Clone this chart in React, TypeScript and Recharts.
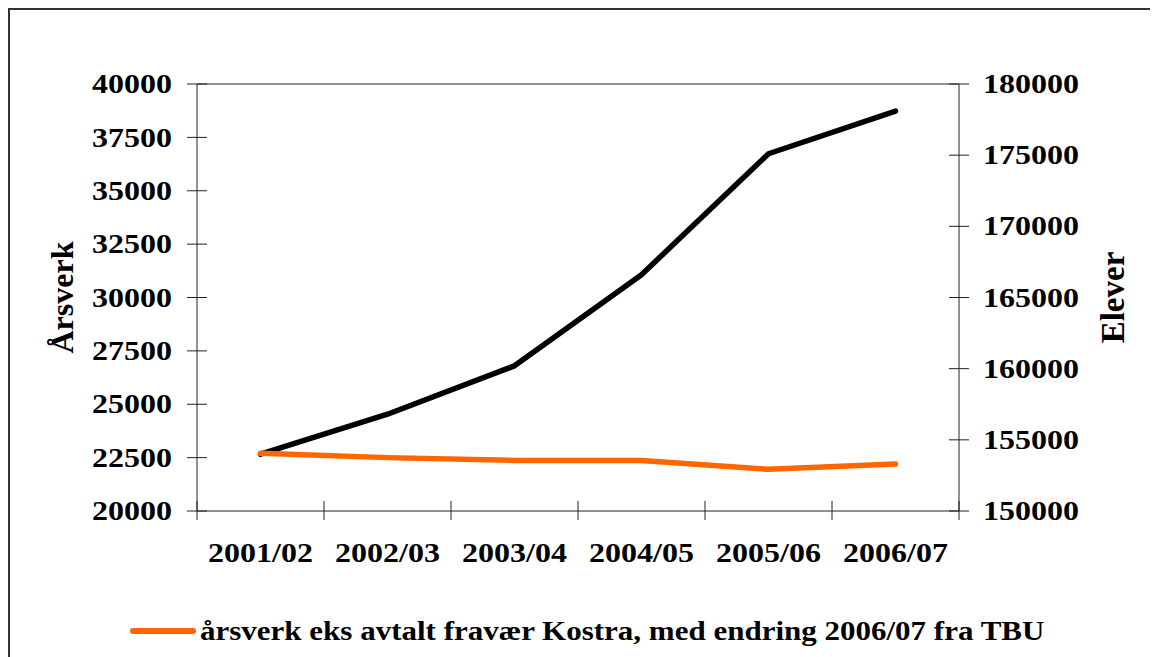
import React from 'react';
import { LineChart, Line, XAxis, YAxis, Legend, ReferenceLine } from 'recharts';

const categories = ['2001/02', '2002/03', '2003/04', '2004/05', '2005/06', '2006/07'];
const elever = [154000, 156800, 160200, 166600, 175100, 178100];
const arsverk = [22700, 22500, 22370, 22360, 21950, 22200];
const leftTicks = [20000, 22500, 25000, 27500, 30000, 32500, 35000, 37500, 40000];
const rightTicks = [150000, 155000, 160000, 165000, 170000, 175000, 180000];
const arsverkName = 'årsverk eks avtalt fravær Kostra, med endring 2006/07 fra TBU';
const eleverName = 'Elever';

const data = categories.map((c, i) => ({ x: i + 0.5, cat: c, arsverk: arsverk[i], elever: elever[i] }));
const xTicks: number[] = [];
for (let i = 0; i <= categories.length * 2; i++) xTicks.push(i / 2);

const FONT = '"Liberation Serif", "Times New Roman", serif';
const AX = '#222';

const LeftTick = (props: any) => {
  const { x, y, payload } = props;
  return (
    <g>
      <line x1={x - 10} x2={x + 10} y1={y} y2={y} stroke={AX} strokeWidth={1} />
      <text transform={`translate(${x - 25},${y}) scale(1,0.85)`} textAnchor="end" dominantBaseline="central"
        fontFamily={FONT} fontWeight="bold" fontSize={32} fill="#000">{payload.value}</text>
    </g>
  );
};

const RightTick = (props: any) => {
  const { x, y, payload } = props;
  return (
    <g>
      <line x1={x - 10} x2={x + 10} y1={y} y2={y} stroke={AX} strokeWidth={1} />
      <text transform={`translate(${x + 24},${y}) scale(1,0.85)`} textAnchor="start" dominantBaseline="central"
        fontFamily={FONT} fontWeight="bold" fontSize={32} fill="#000">{payload.value}</text>
    </g>
  );
};

const BottomTick = (props: any) => {
  const { x, y, payload } = props;
  const v = payload.value;
  if (Number.isInteger(v)) {
    return <line x1={x} x2={x} y1={y - 10} y2={y + 9} stroke={AX} strokeWidth={1} />;
  }
  return (
    <text transform={`translate(${x},${y + 42}) scale(1,0.85)`} textAnchor="middle" dominantBaseline="central"
      fontFamily={FONT} fontWeight="bold" fontSize={32} fill="#000">{categories[Math.floor(v)]}</text>
  );
};

const LegendContent = (props: any) => {
  const items = (props.payload || []).filter((p: any) => p.type !== 'none');
  return (
    <div style={{ display: 'flex', alignItems: 'center' }}>
      {items.map((p: any, i: number) => (
        <div key={i} style={{ display: 'flex', alignItems: 'center' }}>
          <svg width={66} height={10} style={{ display: 'block' }}>
            <line x1={3} x2={63} y1={5} y2={5} stroke={p.color} strokeWidth={6} strokeLinecap="round" />
          </svg>
          <span style={{ fontFamily: FONT, fontWeight: 'bold', fontSize: 31, color: '#000', marginLeft: 4,
            whiteSpace: 'nowrap', display: 'inline-block', transform: 'scaleY(0.85)' }}>{p.value}</span>
        </div>
      ))}
    </div>
  );
};

export default function App() {
  return (
    <div style={{ width: 1148, height: 647, borderTop: '2px solid #333', borderLeft: '2px solid #333', background: '#fff' }}>
      <LineChart width={1148} height={647} data={data} margin={{ top: 74, right: 0, left: 0, bottom: 86 }}>
        <XAxis dataKey="x" type="number" domain={[0, 6]} ticks={xTicks} interval={0} height={60}
          tickSize={0} tickMargin={0} tickLine={false} axisLine={{ stroke: AX, strokeWidth: 1 }} tick={<BottomTick />} />
        <YAxis yAxisId="left" orientation="left" width={187} domain={[20000, 40000]} ticks={leftTicks} interval={0}
          tickSize={0} tickMargin={0} tickLine={false} axisLine={{ stroke: AX, strokeWidth: 1 }} tick={<LeftTick />}
          label={{
            content: (p: any) => {
              const vb = p.viewBox;
              const cx = vb.x + 52;
              const cy = vb.y + vb.height / 2;
              return (
                <text x={cx} y={cy} transform={`rotate(-90,${cx},${cy})`} textAnchor="middle" dominantBaseline="central"
                  fontFamily={FONT} fontWeight="bold" fontSize={32} fill="#000">Årsverk</text>
              );
            },
          }} />
        <YAxis yAxisId="right" orientation="right" width={199} domain={[150000, 180000]} ticks={rightTicks} interval={0}
          tickSize={0} tickMargin={0} tickLine={false} axisLine={{ stroke: AX, strokeWidth: 1 }} tick={<RightTick />}
          label={{
            content: (p: any) => {
              const vb = p.viewBox;
              const cx = vb.x + 154;
              const cy = vb.y + vb.height / 2;
              return (
                <text x={cx} y={cy} transform={`rotate(-90,${cx},${cy})`} textAnchor="middle" dominantBaseline="central"
                  fontFamily={FONT} fontWeight="bold" fontSize={33} fill="#000">Elever</text>
              );
            },
          }} />
        <ReferenceLine yAxisId="left" y={40000} stroke={AX} strokeWidth={1} />
        <Line yAxisId="right" dataKey="elever" name={eleverName} stroke="#000" strokeWidth={5.5} dot={false}
          strokeLinecap="round" strokeLinejoin="round" legendType="none" isAnimationActive={false} />
        <Line yAxisId="left" dataKey="arsverk" name={arsverkName} stroke="#FF6600" strokeWidth={5.5} dot={false}
          strokeLinecap="round" strokeLinejoin="round" isAnimationActive={false} />
        <Legend layout="horizontal" verticalAlign="middle" align="center" content={<LegendContent />}
          wrapperStyle={{ position: 'absolute', left: 120, top: 603, width: 'auto', height: 'auto' }} />
      </LineChart>
    </div>
  );
}
